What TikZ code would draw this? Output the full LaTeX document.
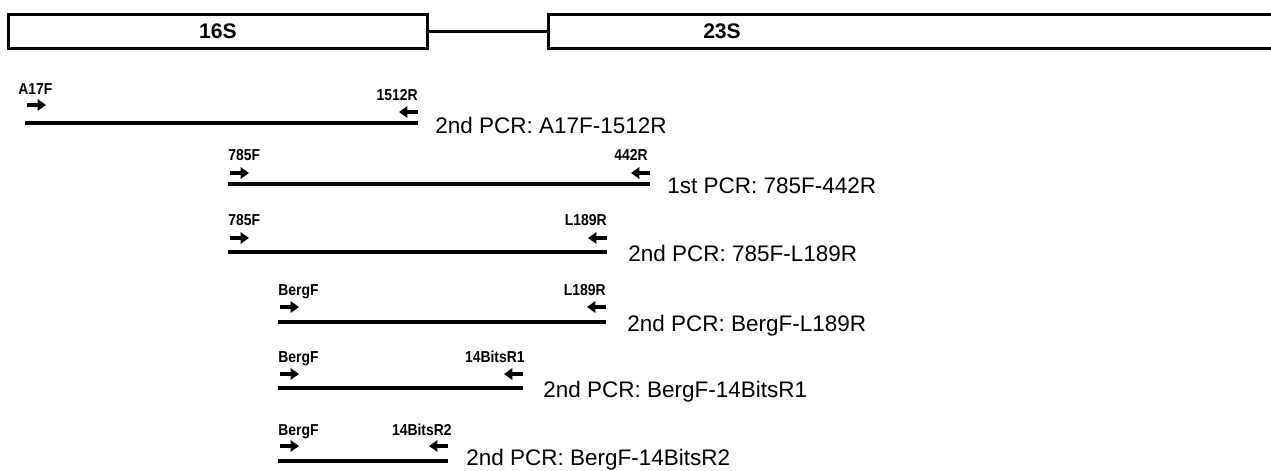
\documentclass[tikz,border=0pt]{standalone}
\usepackage{fontspec}
\setmainfont{Liberation Sans}
\newfontfamily\narrowfont[FakeStretch=0.88]{Liberation Sans}
\usetikzlibrary{positioning,arrows.meta,calc}

\tikzset{
  gene/.style={draw, line width=1.7pt, minimum height=0.68cm, inner sep=0pt,
    font=\bfseries\fontsize{12}{14}\selectfont},
  genetext/.style={inner sep=0pt, font=\bfseries\fontsize{12}{14}\selectfont},
  amplicon/.style={line width=2.2pt},
  primer/.style={line width=1.8pt, -{Triangle[length=4.8pt,width=6.5pt]}},
  plabel/.style={inner sep=0pt, font=\narrowfont\bfseries\fontsize{9}{10}\selectfont},
  pcrtext/.style={inner sep=0pt, anchor=base west, font=\fontsize{12.8}{14}\selectfont}
}

\begin{document}
\begin{tikzpicture}[x=0.02cm, y=-0.02cm]
\clip (0,0) rectangle (1271,470);

% rRNA 基因
\node (r16S) [gene, minimum width=8.4cm] at (218,31.5) {16S};
\node (r23S) [gene, minimum width=15cm, anchor=west] at (547,31.5) {};
\node (t23S) [genetext] at (722,31.5) {23S};
\draw[line width=1.7pt] (r16S.east) -- (r23S.west);

% 第一条
\coordinate (s1) at (25,123);
\coordinate (e1) at (418,123);
\draw[amplicon] (s1) -- (e1);
\draw[primer] ($(s1)+(2,-18)$) -- ++(19,0);
\draw[primer] ($(e1)+(0,-11)$) -- ++(-19,0);
\node (f1) [plabel, anchor=base west] at ($(s1)+(-7,-29)$) {A17F};
\node (r1) [plabel, anchor=base east] at ($(e1)+(0,-23)$) {1512R};
\node (p1) [pcrtext] at ($(e1)+(17,10)$) {2nd PCR: A17F-1512R};

% 第二条
\coordinate (s2) at (228,184);
\coordinate (e2) at (650,184);
\draw[amplicon] (s2) -- (e2);
\draw[primer] ($(s2)+(2,-11)$) -- ++(19,0);
\draw[primer] ($(e2)+(0,-11)$) -- ++(-19,0);
\node (f2) [plabel, anchor=base west] at ($(s2)+(0,-24)$) {785F};
\node (r2) [plabel, anchor=base east] at ($(e2)+(-2,-24)$) {442R};
\node (p2) [pcrtext] at ($(e2)+(17,9)$) {1st PCR: 785F-442R};

% 第三条
\coordinate (s3) at (228,252);
\coordinate (e3) at (607,252);
\draw[amplicon] (s3) -- (e3);
\draw[primer] ($(s3)+(2,-14)$) -- ++(19,0);
\draw[primer] ($(e3)+(0,-14)$) -- ++(-19,0);
\node (f3) [plabel, anchor=base west] at ($(s3)+(0,-27)$) {785F};
\node (r3) [plabel, anchor=base east] at ($(e3)+(0,-27)$) {L189R};
\node (p3) [pcrtext] at ($(e3)+(21,9)$) {2nd PCR: 785F-L189R};

% 第四条
\coordinate (s4) at (278,322);
\coordinate (e4) at (606,322);
\draw[amplicon] (s4) -- (e4);
\draw[primer] ($(s4)+(2,-15)$) -- ++(19,0);
\draw[primer] ($(e4)+(0,-15)$) -- ++(-19,0);
\node (f4) [plabel, anchor=base west] at ($(s4)+(0,-27)$) {BergF};
\node (r4) [plabel, anchor=base east] at ($(e4)+(0,-27)$) {L189R};
\node (p4) [pcrtext] at ($(e4)+(21,9)$) {2nd PCR: BergF-L189R};

% 第五条
\coordinate (s5) at (278,388);
\coordinate (e5) at (523,388);
\draw[amplicon] (s5) -- (e5);
\draw[primer] ($(s5)+(2,-14)$) -- ++(19,0);
\draw[primer] ($(e5)+(0,-14)$) -- ++(-19,0);
\node (f5) [plabel, anchor=base west] at ($(s5)+(0,-26)$) {BergF};
\node (r5) [plabel, anchor=base east] at ($(e5)+(2,-26)$) {14BitsR1};
\node (p5) [pcrtext] at ($(e5)+(20,9)$) {2nd PCR: BergF-14BitsR1};

% 第六条
\coordinate (s6) at (278,461);
\coordinate (e6) at (448,461);
\draw[amplicon] (s6) -- (e6);
\draw[primer] ($(s6)+(2,-15)$) -- ++(19,0);
\draw[primer] ($(e6)+(0,-15)$) -- ++(-19,0);
\node (f6) [plabel, anchor=base west] at ($(s6)+(0,-26)$) {BergF};
\node (r6) [plabel, anchor=base east] at ($(e6)+(4,-26)$) {14BitsR2};
\node (p6) [pcrtext] at ($(e6)+(18,4)$) {2nd PCR: BergF-14BitsR2};
\end{tikzpicture}
\end{document}
